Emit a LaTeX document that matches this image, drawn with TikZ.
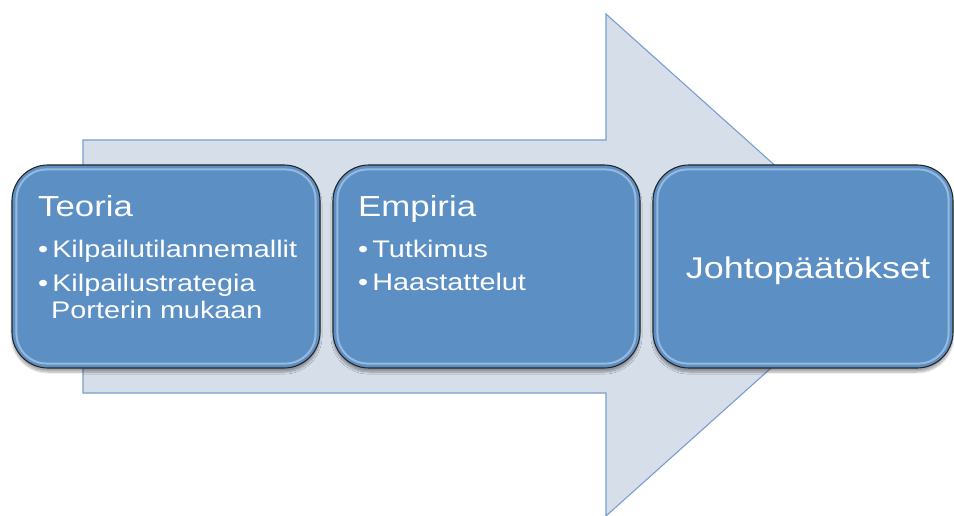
\documentclass[tikz,border=0pt]{standalone}
\usepackage{fontspec}
\setmainfont[FakeStretch=1.2]{Liberation Sans}
\usetikzlibrary{shadows.blur}
\definecolor{boxblue}{RGB}{92,143,196}
\definecolor{arrowfill}{RGB}{214,222,234}
\definecolor{arrowline}{RGB}{120,158,206}
\definecolor{gloss}{RGB}{190,215,240}
\tikzset{
  stagebox/.style={draw=black!85, line width=1.1pt, fill=boxblue, rounded corners=36pt,
    minimum width=#1, minimum height=203pt, inner sep=0pt,
    blur shadow={shadow xshift=0pt, shadow yshift=-4pt, shadow blur steps=8, shadow opacity=35}},
  glossline/.style={draw=gloss, line width=2pt, opacity=0.6, rounded corners=30pt},
  title/.style={anchor=base west, text=white, font=\fontsize{29}{34}\selectfont, inner sep=0pt},
  item/.style={anchor=base west, text=white, font=\fontsize{24}{28}\selectfont, inner sep=0pt, align=left},
}
\begin{document}
\begin{tikzpicture}[x=1pt,y=-1pt]
\useasboundingbox (0,0) rectangle (954,516);
% big arrow
\path[fill=arrowfill, draw=arrowline, line width=1.1pt]
  (83,140) -- (606,140) -- (606,14) -- (886,265) -- (606,516) -- (606,393) -- (83,393) -- cycle;
% boxes
\node[stagebox=308pt] (b1) at (166,266.5) {};
\node[stagebox=307pt] (b2) at (486.5,266.5) {};
\node[stagebox=300pt] (b3) at (803,266.5) {};
\foreach \b in {b1,b2,b3}{
  \draw[glossline] ([xshift=5pt,yshift=-5pt]\b.north west) rectangle ([xshift=-5pt,yshift=5pt]\b.south east);
}
% texts
\node[title] (t1) at (38,216) {Teoria};
\node[item] (i1a) at (38,258) {\textbullet\,Kilpailutilannemallit};
\node[item] (i1b) at (38,291) {\textbullet\,Kilpailustrategia};
\node[item] (i1c) at (51,318) {Porterin mukaan};
\node[title] (t2) at (358,216) {Empiria};
\node[item] (i2a) at (358,257) {\textbullet\,Tutkimus};
\node[item] (i2b) at (358,290) {\textbullet\,Haastattelut};
\node[anchor=base, text=white, font=\fontsize{30}{34}\selectfont, inner sep=0pt] (t3) at (808,278) {Johtopäätökset};
\end{tikzpicture}
\end{document}
